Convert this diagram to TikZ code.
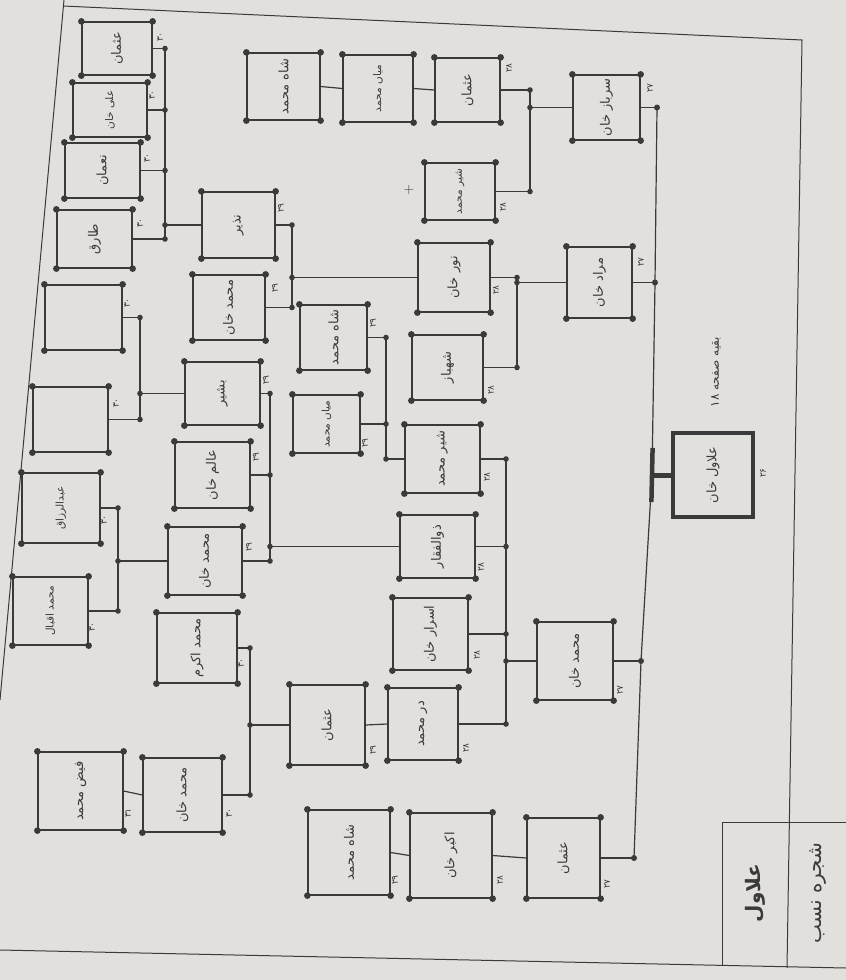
\documentclass[tikz,border=0pt]{standalone}
\usepackage{fontspec}
\usepackage{graphicx}
\newfontfamily\ar[Script=Arabic]{DejaVu Sans}
\TeXXeTstate=1
\definecolor{paper}{RGB}{225,224,221}
\definecolor{ink}{RGB}{58,58,58}
\tikzset{
  pbox/.style={draw=ink, line width=1.3pt, inner sep=0pt, font=\ar\fontsize{13}{15}\selectfont, text=ink},
  small/.style={font=\ar\fontsize{10.5}{12}\selectfont},
  link/.style={draw=ink, line width=1.2pt},
  gen/.style={font=\ar\fontsize{9}{10}\selectfont, text=ink, rotate=90, inner sep=0pt},
  hdr/.style={font=\ar\fontsize{20}{22}\selectfont, text=ink, rotate=90, inner sep=0pt},
}
\newcommand\pbx[7][]{\node[pbox, #1, minimum width=#5pt, minimum height=#6pt] (#2) at (#3,#4) {\rotatebox{90}{#7}};}
\newcommand\crn[1]{\foreach \a in {north east,north west,south east,south west}{\fill[ink] (#1.\a) circle (3.3pt);}}
\newcommand\famly[6]{%
  \coordinate (#1) at (#2,0);
  \draw[link] (#3.west) -- (#3.west -| #1);
  \fill[ink] (#3.west -| #1) circle (2.8pt);
  \foreach \c in {#4}{\draw[link] (\c.east) -- (\c.east -| #1); \fill[ink] (\c.east -| #1) circle (2.8pt);}
  \draw[link] (#5 -| #1) -- (#6 -| #1);
}
\newcommand\gn[4]{\node[gen] (#1) at (#2,#3) {#4};}
\begin{document}
\begin{tikzpicture}[x=1pt,y=-1pt]
\fill[paper] (0,0) rectangle (846,980);
\useasboundingbox (0,0) rectangle (846,980);
% page frame and header
\draw[ink, line width=1pt] (0,700) -- (64,0);
\draw[ink, line width=1pt] (63,6) -- (802,40) -- (787,968);
\draw[ink, line width=1pt] (0,950) -- (846,968);
\draw[ink, line width=1pt] (846,822) -- (722,822) -- (722,966);
\node[hdr] (hdrA) at (818,893) {\beginR شجره نسب\endR};
\node[hdr, font=\ar\bfseries\fontsize{20}{22}\selectfont] (hdrB) at (755,893) {\beginR علاول\endR};
% root
\node[pbox, line width=3.5pt, minimum width=80pt, minimum height=84pt, font=\ar\fontsize{13}{15}\selectfont] (root) at (713,475) {\rotatebox{90}{\beginR علاول خان\endR}};
\gn{nroot}{763}{473}{۲۶}
\node[font=\ar\fontsize{12}{14}\selectfont, text=ink, rotate=90, inner sep=0pt] (note) at (716,372) {\beginR بقیه صفحه ۱۸\endR};
% generation 27
\pbx{c1}{606.5}{107.5}{67}{65}{\beginR سرباز خان\endR}
\pbx{c2}{599.5}{282.5}{65}{71}{\beginR مراد خان\endR}
\pbx{c3}{575}{661}{76}{78}{\beginR محمد خان\endR}
\pbx{c4}{563.5}{858}{73}{80}{\beginR عثمان\endR}
% generation 28
\pbx{g11}{467.5}{90}{65}{64}{\beginR عثمان\endR}
\pbx[small]{g12}{460}{191.5}{70}{57}{\beginR شیر محمد\endR}
\pbx[small]{ch1}{378}{88.5}{70}{67}{\beginR میاں محمد\endR}
\pbx{ch2}{283.5}{86.5}{73}{67}{\beginR شاه محمد\endR}
\pbx{g21}{454}{277.5}{72}{69}{\beginR نور خان\endR}
\pbx{g22}{447.5}{367.5}{71}{65}{\beginR شهباز\endR}
\pbx{g31}{442.5}{459}{75}{68}{\beginR شیر محمد\endR}
\pbx{g32}{437.5}{546.5}{75}{63}{\beginR ذوالفقار\endR}
\pbx{g33}{430.5}{634}{75}{72}{\beginR اسرار خان\endR}
\pbx{g34}{423}{724}{70}{72}{\beginR در محمد\endR}
\pbx{r1}{451}{855.5}{82}{85}{\beginR اکبر خان\endR}
% generation 29
\pbx{h1}{238.5}{225}{73}{66}{\beginR نذیر\endR}
\pbx{h2}{229}{307.5}{72}{65}{\beginR محمد خان\endR}
\pbx{k1}{333.5}{337.5}{67}{65}{\beginR شاه محمد\endR}
\pbx[small]{k2}{326.5}{424}{67}{58}{\beginR میاں محمد\endR}
\pbx{m1}{222.5}{393.5}{75}{63}{\beginR بشیر\endR}
\pbx{m2}{212.5}{475}{75}{66}{\beginR عالم خان\endR}
\pbx{m3}{205}{561}{74}{68}{\beginR محمد خان\endR}
\pbx{n1}{327.5}{725}{75}{80}{\beginR عثمان\endR}
\pbx{r2}{349}{852.5}{82}{85}{\beginR شاه محمد\endR}
% generation 30
\pbx{B1}{117}{48.5}{70}{53}{\beginR عثمان\endR}
\pbx[small]{B2}{110}{110}{74}{54}{\beginR علی خان\endR}
\pbx{B3}{102.5}{170.5}{75}{55}{\beginR نعمان\endR}
\pbx{B4}{94.5}{239}{75}{58}{\beginR طارق\endR}
\node[pbox, minimum width=77pt, minimum height=65pt] (E1) at (83.5,317.5) {};
\node[pbox, minimum width=75pt, minimum height=65pt] (E2) at (70.5,419.5) {};
\pbx[small]{R1}{61}{508}{78}{70}{\beginR عبدالرزاق\endR}
\pbx[small]{R2}{50.5}{611}{75}{68}{\beginR محمد اقبال\endR}
\pbx{p1}{197}{648}{80}{70}{\beginR محمد اکرم\endR}
\pbx{p2}{182.5}{795}{79}{74}{\beginR محمد خان\endR}
% generation 31
\pbx{q1}{80.5}{791}{85}{78}{\beginR فیض محمد\endR}
% corner dots
\foreach \n in {c1,c2,c3,c4,g11,g12,ch1,ch2,g21,g22,g31,g32,g33,g34,r1,h1,h2,k1,k2,m1,m2,m3,n1,r2,B1,B2,B3,B4,E1,E2,R1,R2,p1,p2,q1}{\crn{\n}}
% trunk
\coordinate (T1) at (657,107.5);
\coordinate (T2) at (655,282.5);
\coordinate (T0) at (652,475);
\coordinate (T3) at (641,661);
\coordinate (T4) at (634,858);
\draw[link] (T1) -- (T2) -- (T0) -- (T3) -- (T4);
\draw[ink, line width=4.5pt] (652.6,448) -- (651.4,502);
\draw[ink, line width=5pt] (root.west) -- (T0);
\foreach \c/\t in {c1/T1,c2/T2,c3/T3,c4/T4}{\draw[link] (\c.east) -- (\t); \fill[ink] (\t) circle (3pt);}
% families
\famly{b1}{530}{c1}{g11,g12}{g11.east}{g12.east}
\famly{b2}{517}{c2}{g21,g22}{g21.east}{g22.east}
\famly{b3}{506}{c3}{g31,g32,g33,g34}{g31.east}{g34.east}
\famly{b4}{292}{g21}{h1,h2}{h1.east}{h2.east}
\famly{b5}{165}{h1}{B1,B2,B3,B4}{B1.east}{B4.east}
\famly{b6}{386}{g31}{k1,k2}{k1.east}{g31.west}
\famly{b7}{270}{g32}{m1,m2,m3}{m1.east}{m3.east}
\famly{b8}{140}{m1}{E1,E2}{E1.east}{E2.east}
\famly{b9}{118}{m3}{R1,R2}{R1.east}{R2.east}
\famly{b10}{250}{n1}{p1,p2}{p1.east}{p2.east}
\draw[link] (g11.west) -- (ch1.east);
\draw[link] (ch1.west) -- (ch2.east);
\draw[link] (c4.west) -- (r1.east);
\draw[link] (r1.west) -- (r2.east);
\draw[link] (g34.west) -- (n1.east);
\draw[link] (p2.west) -- (q1.east);
\node[text=ink, font=\fontsize{14}{14}\selectfont, inner sep=0pt] (plus) at (409,190) {+};
% generation numbers
\gn{nc1}{650}{88}{۲۷}
\gn{nc2}{641}{262}{۲۷}
\gn{nc3}{620}{690}{۲۷}
\gn{nc4}{607}{884}{۲۷}
\gn{ng11}{509}{68}{۲۸}
\gn{ng12}{503}{207}{۲۸}
\gn{ng21}{496}{290}{۲۸}
\gn{ng22}{491}{390}{۲۸}
\gn{ng31}{487}{477}{۲۸}
\gn{ng32}{481}{567}{۲۸}
\gn{ng33}{477}{655}{۲۸}
\gn{ng34}{466}{748}{۲۸}
\gn{nr1}{500}{880}{۲۸}
\gn{nh1}{281}{208}{۲۹}
\gn{nh2}{275}{288}{۲۹}
\gn{nk1}{373}{323}{۲۹}
\gn{nk2}{365}{443}{۲۹}
\gn{nm1}{266}{380}{۲۹}
\gn{nm2}{256}{457}{۲۹}
\gn{nm3}{249}{547}{۲۹}
\gn{nn1}{373}{750}{۲۹}
\gn{nr2}{395}{880}{۲۹}
\gn{nB1}{160}{37}{۳۰}
\gn{nB2}{152}{95}{۳۰}
\gn{nB3}{147}{158}{۳۰}
\gn{nB4}{140}{223}{۳۰}
\gn{nE1}{127}{303}{۳۰}
\gn{nE2}{116}{403}{۳۰}
\gn{nR1}{104}{520}{۳۰}
\gn{nR2}{92}{627}{۳۰}
\gn{np1}{241}{663}{۳۰}
\gn{np2}{229}{813}{۳۰}
\gn{nq1}{128}{813}{۳۱}
\end{tikzpicture}
\end{document}
